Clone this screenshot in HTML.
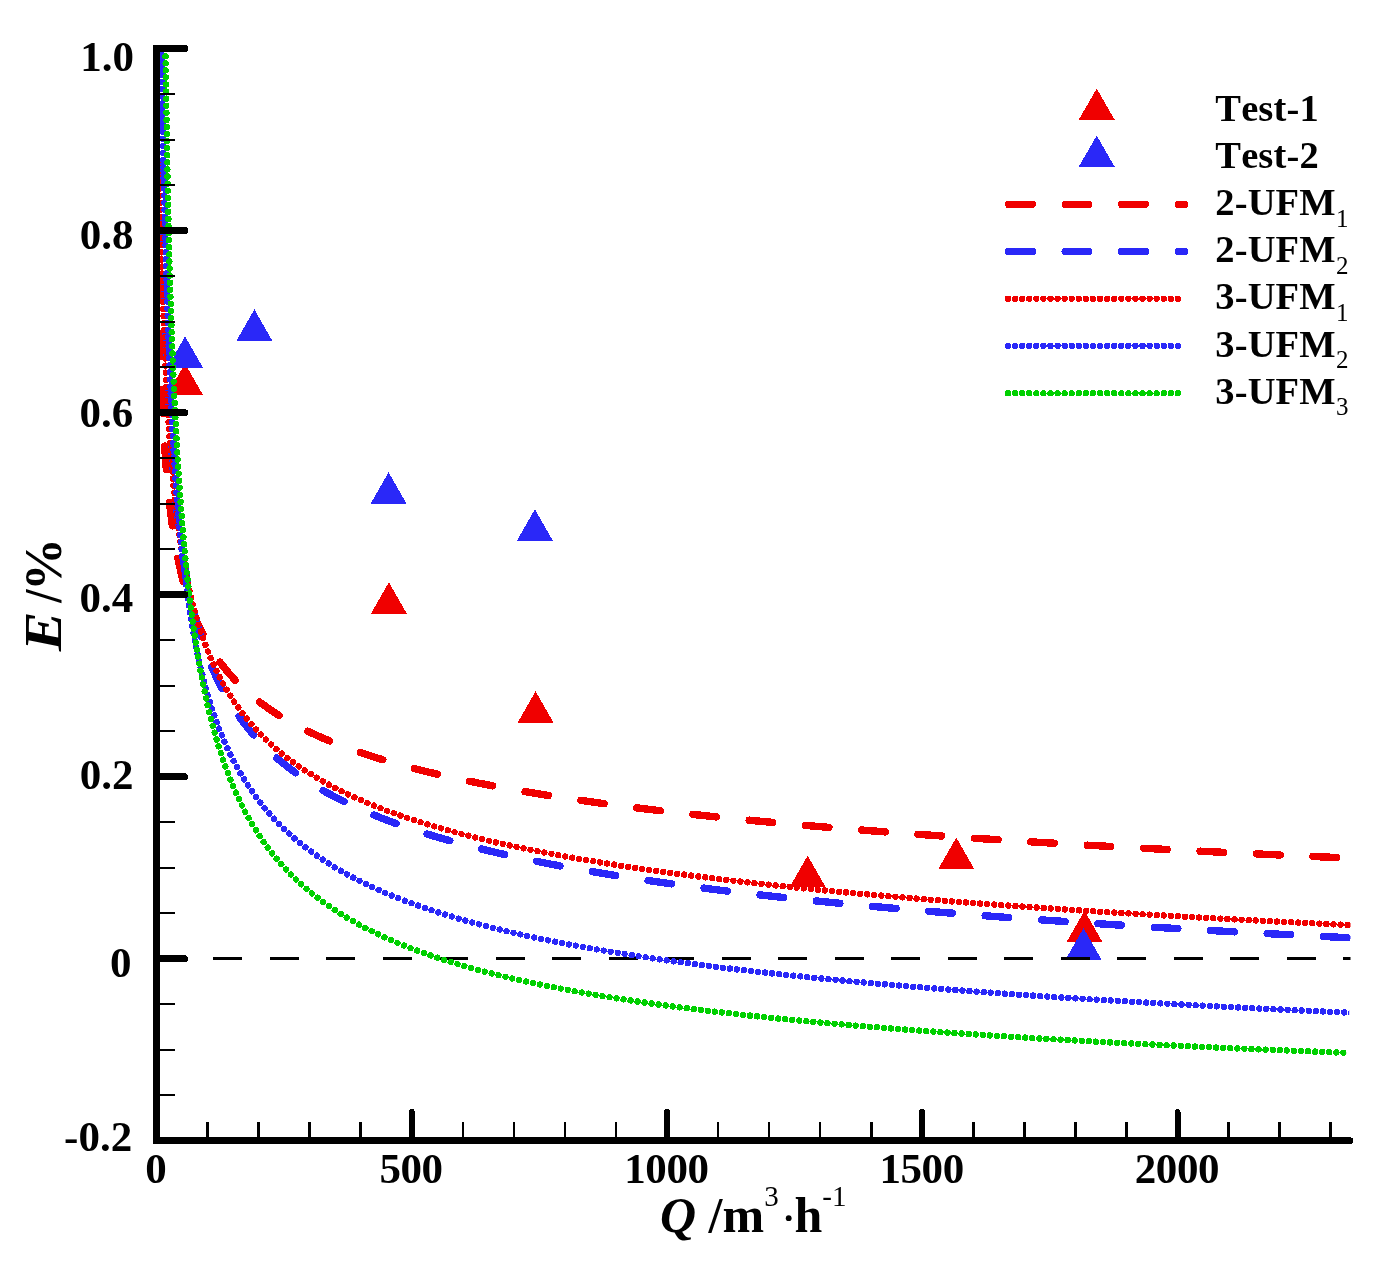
<!DOCTYPE html>
<html><head><meta charset="utf-8"><title>chart</title>
<style>html,body{margin:0;padding:0;background:#fff}body{width:1391px;height:1277px;overflow:hidden}</style></head>
<body>
<svg width="1391" height="1277" viewBox="0 0 1391 1277" style="display:block">
<rect width="1391" height="1277" fill="#fff"/>
<defs><clipPath id="vp"><rect x="156.5" y="48.5" width="1194.0" height="1092.2"/></clipPath>
<clipPath id="cb"><rect x="156.5" y="48.5" width="1192.7" height="1092.2"/></clipPath>
<clipPath id="cg"><rect x="156.5" y="48.5" width="1189.7" height="1092.2"/></clipPath>
</defs>
<g shape-rendering="crispEdges">
<polygon points="185.0,363.5 167.0,395.0 203.0,395.0" fill="#f00000"/>
<polygon points="388.9,582.2 370.9,613.7 406.9,613.7" fill="#f00000"/>
<polygon points="535.6,691.2 517.6,722.7 553.6,722.7" fill="#f00000"/>
<polygon points="807.7,855.6 789.7,887.1 825.7,887.1" fill="#f00000"/>
<polygon points="956.3,837.6 938.3,869.1 974.3,869.1" fill="#f00000"/>
<polygon points="1084.5,910.7 1066.5,942.2 1102.5,942.2" fill="#f00000"/>
<polygon points="185.1,336.3 167.1,367.8 203.1,367.8" fill="#2a28f8"/>
<polygon points="254.4,309.3 236.4,340.8 272.4,340.8" fill="#2a28f8"/>
<polygon points="388.6,472.3 370.6,503.8 406.6,503.8" fill="#2a28f8"/>
<polygon points="534.9,509.2 516.9,540.7 552.9,540.7" fill="#2a28f8"/>
<polygon points="1083.5,928.2 1065.5,959.7 1101.5,959.7" fill="#2a28f8"/>
</g>
<g clip-path="url(#vp)" fill="none" shape-rendering="crispEdges">
<path d="M156.5,958.4 H1352" stroke="#000" stroke-width="3" stroke-dasharray="29.3 27.2"/>
<path d="M155.07,-11.04 L155.08,-7.92 L155.09,-4.83 L155.09,-1.77 L155.10,1.27 L155.11,4.28 L155.12,7.26 L155.12,10.22 L155.13,13.16 L155.14,16.07 L155.15,18.96 L155.15,21.83 L155.16,24.68 L155.17,27.50 L155.18,30.30 L155.19,33.08 L155.19,35.84 L155.20,38.58 L155.21,41.30 L155.22,44.00 L155.23,46.68 L155.24,49.35 L155.24,51.99 L155.25,54.62 L155.26,57.22 L155.27,59.82 L155.28,62.39 L155.29,64.94 L155.30,67.48 L155.31,70.01 L155.31,72.51 L155.32,75.00 L155.33,77.48 L155.34,79.94 L155.35,82.38 L155.36,84.81 L155.37,87.23 L155.38,89.63 L155.39,92.02 L155.40,94.39 L155.41,96.75 L155.42,99.09 L155.43,101.42 L155.44,103.74 L155.45,106.04 L155.46,108.34 L155.47,110.62 L155.49,112.88 L155.54,115.14 L155.59,117.38 L155.63,119.61 L155.68,121.83 L155.72,124.04 L155.77,126.23 L155.81,128.42 L155.86,130.59 L155.90,132.75 L155.94,134.90 L155.99,137.04 L156.03,139.17 L156.08,141.29 L156.12,143.40 L156.16,145.50 L156.20,147.59 L156.25,149.67 L156.29,151.74 L156.33,153.80 L156.37,155.85 L156.41,157.89 L156.45,159.92 L156.50,161.94 L156.54,163.95 L156.58,165.95 L156.62,167.95 L156.66,169.93 L156.70,171.91 L156.74,173.88 L156.78,175.84 L156.82,177.79 L156.86,179.74 L156.90,181.67 L156.94,183.60 L156.98,185.52 L157.01,187.43 L157.05,189.33 L157.09,191.22 L157.13,193.11 L157.17,194.99 L157.21,196.86 L157.25,198.73 L157.28,200.59 L157.32,202.44 L157.36,204.28 L157.40,206.12 L157.44,207.94 L157.47,209.77 L157.51,211.58 L157.55,213.39 L157.59,215.19 L157.62,216.99 L157.66,218.77 L157.70,220.55 L157.74,222.33 L157.77,224.10 L157.81,225.86 L157.85,227.61 L157.88,229.36 L157.92,231.11 L157.96,232.84 L157.99,234.57 L158.03,236.30 L158.07,238.02 L158.10,239.73 L158.14,241.44 L158.17,243.14 L158.21,244.83 L158.25,246.52 L158.28,248.21 L158.32,249.88 L158.35,251.56 L158.39,253.22 L158.43,254.89 L158.46,256.54 L158.50,258.19 L158.53,259.84 L158.57,261.48 L158.60,263.11 L158.64,264.74 L158.68,266.37 L158.71,267.99 L158.75,269.60 L158.78,271.21 L158.82,272.81 L158.85,274.41 L158.89,276.01 L158.93,277.60 L158.96,279.18 L159.00,280.76 L159.03,282.34 L159.07,283.91 L159.10,285.47 L159.14,287.03 L159.17,288.59 L159.21,290.14 L159.24,291.69 L159.28,293.23 L159.31,294.77 L159.35,296.30 L159.38,297.83 L159.42,299.36 L159.45,300.88 L159.49,302.39 L159.52,303.91 L159.56,305.41 L159.59,306.92 L159.63,308.42 L159.66,309.91 L159.70,311.40 L159.73,312.89 L159.77,314.37 L159.80,315.85 L159.83,317.32 L159.87,318.79 L159.90,320.26 L159.93,321.72 L159.96,323.18 L160.00,324.64 L160.03,326.09 L160.06,327.54 L160.09,328.98 L160.12,330.42 L160.16,331.85 L160.19,333.29 L160.23,334.72 L160.26,336.14 L160.29,337.56 L160.33,338.98 L160.36,340.39 L160.40,341.80 L160.43,343.21 L160.47,344.61 L160.51,346.01 L160.54,347.41 L160.58,348.80 L160.62,350.19 L160.65,351.57 L160.69,352.95 L160.73,354.33 L160.77,355.71 L160.81,357.08 L160.85,358.45 L160.89,359.81 L160.93,361.18 L160.97,362.53 L161.01,363.89 L161.05,365.24 L161.09,366.59 L161.13,367.94 L161.18,369.28 L161.22,370.62 L161.26,371.95 L161.31,373.29 L161.35,374.61 L161.39,375.94 L161.44,377.26 L161.48,378.58 L161.53,379.90 L161.57,381.22 L161.62,382.53 L161.67,383.84 L161.72,385.14 L161.76,386.44 L161.81,387.74 L161.86,389.04 L161.91,390.33 L161.96,391.62 L162.01,392.91 L162.06,394.19 L162.11,395.47 L162.16,396.75 L162.21,398.03 L162.26,399.30 L162.32,400.57 L162.37,401.84 L162.42,403.10 L162.48,404.37 L162.53,405.62 L162.59,406.88 L162.64,408.13 L162.70,409.38 L162.76,410.63 L162.81,411.88 L162.87,413.12 L162.93,414.36 L162.99,415.60 L163.05,416.83 L163.11,418.06 L163.17,419.29 L163.23,420.52 L163.29,421.74 L163.35,422.97 L163.41,424.18 L163.48,425.40 L163.54,426.61 L163.60,427.82 L163.67,429.03 L163.74,430.24 L163.80,431.44 L163.87,432.64 L163.94,433.84 L164.00,435.04 L164.07,436.23 L164.14,437.42 L164.21,438.61 L164.28,439.80 L164.35,440.98 L164.42,442.16 L164.50,443.34 L164.57,444.52 L164.64,445.69 L164.72,446.86 L164.79,448.03 L164.87,449.20 L164.95,450.36 L165.02,451.53 L165.10,452.68 L165.18,453.84 L165.26,455.00 L165.34,456.15 L165.42,457.30 L165.50,458.45 L165.58,459.59 L165.67,460.74 L165.75,461.88 L165.83,463.02 L165.92,464.16 L166.00,465.29 L166.09,466.42 L166.18,467.55 L166.27,468.68 L166.36,469.81 L166.45,470.93 L166.54,472.05 L166.63,473.17 L166.72,474.29 L166.82,475.40 L166.91,476.51 L167.00,477.62 L167.10,478.73 L167.20,479.84 L167.30,480.94 L167.39,482.04 L167.49,483.14 L167.59,484.24 L167.70,485.34 L167.80,486.43 L167.90,487.52 L168.00,488.61 L168.11,489.70 L168.22,490.78 L168.32,491.86 L168.43,492.94 L168.54,494.02 L168.65,495.10 L168.76,496.17 L168.87,497.25 L168.99,498.32 L169.10,499.39 L169.22,500.45 L169.33,501.52 L169.45,502.58 L169.57,503.64 L169.69,504.70 L169.81,505.76 L169.93,506.81 L170.05,507.86 L170.17,508.91 L170.30,509.96 L170.43,511.01 L170.55,512.05 L170.68,513.10 L170.81,514.14 L170.94,515.18 L171.07,516.21 L171.21,517.25 L171.34,518.28 L171.48,519.31 L171.61,520.34 L171.75,521.37 L171.89,522.40 L172.03,523.42 L172.17,524.44 L172.32,525.46 L172.46,526.48 L172.61,527.50 L172.75,528.51 L172.90,529.53 L173.05,530.54 L173.20,531.55 L173.36,532.55 L173.51,533.56 L173.67,534.56 L173.82,535.56 L173.98,536.56 L174.14,537.56 L174.30,538.56 L174.46,539.55 L174.63,540.54 L174.79,541.53 L174.96,542.52 L175.13,543.51 L175.30,544.50 L175.47,545.48 L175.64,546.46 L175.82,547.44 L176.00,548.42 L176.17,549.40 L176.35,550.37 L176.54,551.35 L176.72,552.32 L176.90,553.29 L177.09,554.26 L177.28,555.22 L177.47,556.19 L177.66,557.15 L177.85,558.11 L178.05,559.07 L178.24,560.03 L178.44,560.98 L178.64,561.94 L178.85,562.89 L179.05,563.84 L179.26,564.79 L179.46,565.74 L179.67,566.69 L179.89,567.63 L180.10,568.57 L180.31,569.51 L180.53,570.45 L180.75,571.39 L180.97,572.33 L181.20,573.26 L181.42,574.20 L181.65,575.13 L181.88,576.06 L182.11,576.98 L182.35,577.91 L182.58,578.84 L182.82,579.76 L183.06,580.68 L183.30,581.60 L183.55,582.52 L183.79,583.44 L184.04,584.35 L184.30,585.26 L184.55,586.18 L184.81,587.09 L185.06,588.00 L185.33,588.90 L185.59,589.81 L185.85,590.71 L186.12,591.61 L186.39,592.52 L186.67,593.42 L186.94,594.31 L187.22,595.21 L187.50,596.10 L187.78,597.00 L188.07,597.89 L188.36,598.78 L188.65,599.67 L188.94,600.56 L189.24,601.44 L189.54,602.33 L189.84,603.21 L190.14,604.09 L190.45,604.97 L190.76,605.85 L191.08,606.72 L191.39,607.60 L191.71,608.47 L192.03,609.34 L192.36,610.21 L192.68,611.08 L193.01,611.95 L193.35,612.82 L193.68,613.68 L194.02,614.54 L194.37,615.41 L194.71,616.27 L195.06,617.13 L195.41,617.98 L195.77,618.84 L196.13,619.69 L196.49,620.55 L196.86,621.40 L197.22,622.25 L197.60,623.10 L197.97,623.94 L198.35,624.79 L198.73,625.63 L199.12,626.48 L199.51,627.32 L199.90,628.16 L200.30,629.00 L200.70,629.83 L201.10,630.67 L201.51,631.50 L201.92,632.34 L202.34,633.17 L202.75,634.00 L203.18,634.83 L203.60,635.65 L204.03,636.48 L204.47,637.31 L204.91,638.13 L205.35,638.95 L205.79,639.77 L206.24,640.59 L206.70,641.41 L207.16,642.22 L207.62,643.04 L208.09,643.85 L208.56,644.66 L209.03,645.48 L209.51,646.28 L210.00,647.09 L210.49,647.90 L210.98,648.70 L211.48,649.51 L211.98,650.31 L212.49,651.11 L213.00,651.91 L213.52,652.71 L214.04,653.51 L214.56,654.31 L215.09,655.10 L215.63,655.89 L216.17,656.69 L216.71,657.48 L217.26,658.27 L217.82,659.05 L218.38,659.84 L218.94,660.63 L219.51,661.41 L220.09,662.19 L220.67,662.97 L221.26,663.75 L221.85,664.53 L222.44,665.31 L223.05,666.09 L223.66,666.86 L224.27,667.64 L224.89,668.41 L225.51,669.18 L226.14,669.95 L226.78,670.72 L227.42,671.49 L228.07,672.25 L228.72,673.02 L229.38,673.78 L230.05,674.54 L230.72,675.30 L231.40,676.06 L232.08,676.82 L232.77,677.58 L233.47,678.34 L234.17,679.09 L234.88,679.84 L235.60,680.60 L236.32,681.35 L237.05,682.10 L237.79,682.84 L238.53,683.59 L239.28,684.34 L240.03,685.08 L240.80,685.83 L241.57,686.57 L242.35,687.31 L243.13,688.05 L243.92,688.79 L244.72,689.53 L245.53,690.26 L246.34,691.00 L247.16,691.73 L247.99,692.46 L248.82,693.20 L249.67,693.93 L250.52,694.65 L251.38,695.38 L252.24,696.11 L253.12,696.83 L254.00,697.56 L254.89,698.28 L255.79,699.00 L256.70,699.72 L257.61,700.44 L258.54,701.16 L259.47,701.88 L260.41,702.59 L261.36,703.31 L262.32,704.02 L263.28,704.73 L264.26,705.45 L265.24,706.16 L266.24,706.86 L267.24,707.57 L268.25,708.28 L269.27,708.98 L270.30,709.69 L271.34,710.39 L272.39,711.09 L273.45,711.79 L274.52,712.49 L275.60,713.19 L276.68,713.89 L277.78,714.59 L278.89,715.28 L280.01,715.97 L281.14,716.67 L282.27,717.36 L283.42,718.05 L284.58,718.74 L285.75,719.43 L286.93,720.11 L288.13,720.80 L289.33,721.48 L290.54,722.17 L291.77,722.85 L293.00,723.53 L294.25,724.21 L295.51,724.89 L296.78,725.57 L298.06,726.25 L299.35,726.92 L300.66,727.60 L301.97,728.27 L303.30,728.94 L304.64,729.62 L306.00,730.29 L307.36,730.96 L308.74,731.62 L310.13,732.29 L311.54,732.96 L312.95,733.62 L314.38,734.29 L315.82,734.95 L317.28,735.61 L318.75,736.27 L320.23,736.93 L321.73,737.59 L323.24,738.25 L324.76,738.90 L326.30,739.56 L327.85,740.21 L329.41,740.86 L330.99,741.52 L332.59,742.17 L334.19,742.82 L335.82,743.47 L337.46,744.11 L339.11,744.76 L340.78,745.41 L342.46,746.05 L344.16,746.69 L345.87,747.34 L347.60,747.98 L349.35,748.62 L351.11,749.26 L352.89,749.90 L354.68,750.53 L356.49,751.17 L358.32,751.81 L360.16,752.44 L362.03,753.07 L363.90,753.70 L365.80,754.34 L367.71,754.97 L369.64,755.60 L371.59,756.22 L373.55,756.85 L375.53,757.48 L377.54,758.10 L379.55,758.72 L381.59,759.35 L383.65,759.97 L385.72,760.59 L387.82,761.21 L389.93,761.83 L392.06,762.45 L394.22,763.06 L396.39,763.68 L398.58,764.29 L400.79,764.91 L403.02,765.52 L405.27,766.13 L407.55,766.74 L409.84,767.35 L412.15,767.96 L414.49,768.57 L416.85,769.18 L419.22,769.78 L421.63,770.39 L424.05,770.99 L426.49,771.60 L428.96,772.20 L431.45,772.80 L433.96,773.40 L436.49,774.00 L439.05,774.60 L441.63,775.19 L444.24,775.79 L446.87,776.38 L449.52,776.98 L452.20,777.57 L454.90,778.16 L457.62,778.75 L460.37,779.35 L463.15,779.93 L465.95,780.52 L468.78,781.11 L471.63,781.70 L474.51,782.28 L477.41,782.87 L480.35,783.45 L483.31,784.03 L486.29,784.62 L489.30,785.20 L492.34,785.78 L495.41,786.36 L498.51,786.93 L501.63,787.51 L504.79,788.09 L507.97,788.66 L511.18,789.24 L514.42,789.81 L517.69,790.38 L520.99,790.95 L524.32,791.52 L527.68,792.09 L531.07,792.66 L534.49,793.23 L537.94,793.80 L541.43,794.36 L544.94,794.93 L548.49,795.49 L552.07,796.05 L555.69,796.62 L559.33,797.18 L563.01,797.74 L566.73,798.30 L570.48,798.86 L574.26,799.41 L578.07,799.97 L581.93,800.53 L585.81,801.08 L589.73,801.64 L593.69,802.19 L597.69,802.74 L601.72,803.29 L605.78,803.84 L609.89,804.39 L614.03,804.94 L618.21,805.49 L622.43,806.04 L626.68,806.58 L630.98,807.13 L635.31,807.67 L639.69,808.22 L644.10,808.76 L648.56,809.30 L653.05,809.84 L657.59,810.38 L662.17,810.92 L666.79,811.46 L671.45,812.00 L676.15,812.53 L680.90,813.07 L685.69,813.60 L690.52,814.14 L695.40,814.67 L700.33,815.20 L705.29,815.73 L710.31,816.26 L715.37,816.79 L720.47,817.32 L725.62,817.85 L730.82,818.38 L736.07,818.90 L741.36,819.43 L746.71,819.95 L752.10,820.48 L757.54,821.00 L763.03,821.52 L768.57,822.04 L774.16,822.56 L779.81,823.08 L785.50,823.60 L791.25,824.12 L797.05,824.63 L802.90,825.15 L808.80,825.67 L814.76,826.18 L820.77,826.69 L826.84,827.21 L832.97,827.72 L839.15,828.23 L845.38,828.74 L851.68,829.25 L858.03,829.76 L864.44,830.26 L870.90,830.77 L877.43,831.28 L884.02,831.78 L890.66,832.29 L897.37,832.79 L904.14,833.29 L910.97,833.80 L917.86,834.30 L924.82,834.80 L931.83,835.30 L938.92,835.80 L946.06,836.29 L953.28,836.79 L960.56,837.29 L967.90,837.78 L975.31,838.28 L982.80,838.77 L990.34,839.26 L997.96,839.76 L1005.65,840.25 L1013.41,840.74 L1021.23,841.23 L1029.13,841.72 L1037.11,842.21 L1045.15,842.69 L1053.27,843.18 L1061.46,843.67 L1069.73,844.15 L1078.07,844.64 L1086.49,845.12 L1094.99,845.60 L1103.56,846.08 L1112.21,846.57 L1120.94,847.05 L1129.75,847.53 L1138.64,848.01 L1147.62,848.48 L1156.67,848.96 L1165.81,849.44 L1175.03,849.91 L1184.33,850.39 L1193.72,850.86 L1203.20,851.34 L1212.76,851.81 L1222.41,852.28 L1232.15,852.75 L1241.97,853.22 L1251.89,853.69 L1261.90,854.16 L1272.00,854.63 L1282.19,855.10 L1292.47,855.56 L1302.85,856.03 L1313.32,856.50 L1323.89,856.96 L1334.55,857.42 L1345.31,857.89 L1356.18,858.35" stroke="#f00000" stroke-width="7.4" stroke-linecap="round" stroke-dasharray="23.6 32.9" stroke-dashoffset="-5.29"/>
<path d="M159.49,-9.79 L159.52,-4.60 L159.55,0.50 L159.58,5.53 L159.61,10.49 L159.64,15.37 L159.67,20.19 L159.70,24.94 L159.73,29.62 L159.77,34.23 L159.80,38.79 L159.83,43.28 L159.86,47.72 L159.90,52.10 L159.93,56.42 L159.96,60.68 L160.00,64.90 L160.03,69.06 L160.06,73.18 L160.10,77.24 L160.13,81.25 L160.17,85.22 L160.20,89.15 L160.24,93.02 L160.27,96.86 L160.31,100.65 L160.34,104.40 L160.38,108.11 L160.42,111.79 L160.49,115.42 L160.56,119.01 L160.64,122.57 L160.71,126.09 L160.78,129.57 L160.86,133.03 L160.93,136.44 L161.00,139.82 L161.08,143.17 L161.15,146.49 L161.22,149.78 L161.29,153.04 L161.36,156.26 L161.43,159.46 L161.50,162.63 L161.57,165.77 L161.64,168.88 L161.71,171.96 L161.78,175.02 L161.85,178.05 L161.91,181.05 L161.98,184.03 L162.05,186.99 L162.12,189.92 L162.19,192.82 L162.25,195.71 L162.32,198.56 L162.39,201.40 L162.46,204.21 L162.52,207.01 L162.59,209.78 L162.66,212.53 L162.72,215.25 L162.79,217.96 L162.85,220.65 L162.92,223.31 L162.99,225.96 L163.05,228.59 L163.12,231.20 L163.18,233.79 L163.25,236.36 L163.31,238.91 L163.38,241.45 L163.45,243.97 L163.51,246.47 L163.58,248.95 L163.64,251.42 L163.71,253.87 L163.77,256.31 L163.84,258.72 L163.90,261.13 L163.97,263.51 L164.03,265.89 L164.10,268.24 L164.16,270.58 L164.23,272.91 L164.29,275.22 L164.36,277.52 L164.42,279.80 L164.49,282.07 L164.56,284.33 L164.62,286.57 L164.69,288.80 L164.75,291.01 L164.82,293.22 L164.88,295.41 L164.95,297.58 L165.01,299.75 L165.08,301.90 L165.14,304.04 L165.21,306.17 L165.27,308.28 L165.34,310.39 L165.40,312.48 L165.47,314.56 L165.53,316.63 L165.59,318.69 L165.66,320.73 L165.72,322.77 L165.78,324.79 L165.85,326.81 L165.91,328.81 L165.97,330.81 L166.04,332.79 L166.10,334.76 L166.17,336.73 L166.23,338.68 L166.30,340.62 L166.36,342.56 L166.43,344.48 L166.50,346.39 L166.56,348.30 L166.63,350.20 L166.70,352.08 L166.77,353.96 L166.84,355.83 L166.91,357.69 L166.98,359.54 L167.05,361.38 L167.12,363.21 L167.19,365.04 L167.26,366.85 L167.34,368.66 L167.41,370.46 L167.48,372.25 L167.56,374.03 L167.63,375.81 L167.71,377.58 L167.78,379.34 L167.86,381.09 L167.94,382.83 L168.01,384.57 L168.09,386.30 L168.17,388.02 L168.25,389.73 L168.33,391.44 L168.41,393.14 L168.49,394.83 L168.57,396.51 L168.65,398.19 L168.73,399.86 L168.82,401.53 L168.90,403.18 L168.98,404.83 L169.07,406.48 L169.15,408.11 L169.24,409.74 L169.32,411.37 L169.41,412.98 L169.50,414.59 L169.59,416.20 L169.67,417.80 L169.76,419.39 L169.85,420.97 L169.94,422.55 L170.03,424.13 L170.13,425.69 L170.22,427.25 L170.31,428.81 L170.40,430.36 L170.50,431.90 L170.59,433.44 L170.69,434.97 L170.78,436.50 L170.88,438.02 L170.98,439.53 L171.07,441.04 L171.17,442.54 L171.27,444.04 L171.37,445.54 L171.47,447.02 L171.57,448.50 L171.68,449.98 L171.78,451.45 L171.88,452.92 L171.99,454.38 L172.09,455.84 L172.20,457.29 L172.30,458.73 L172.41,460.17 L172.52,461.61 L172.62,463.04 L172.73,464.47 L172.84,465.89 L172.95,467.30 L173.06,468.71 L173.18,470.12 L173.29,471.52 L173.40,472.92 L173.52,474.31 L173.63,475.70 L173.75,477.08 L173.86,478.46 L173.98,479.84 L174.10,481.21 L174.22,482.57 L174.34,483.93 L174.46,485.29 L174.58,486.64 L174.70,487.99 L174.82,489.33 L174.95,490.67 L175.07,492.01 L175.20,493.34 L175.32,494.67 L175.45,495.99 L175.58,497.31 L175.71,498.62 L175.84,499.93 L175.97,501.24 L176.10,502.54 L176.23,503.84 L176.37,505.13 L176.50,506.42 L176.64,507.71 L176.77,508.99 L176.91,510.27 L177.05,511.54 L177.19,512.82 L177.33,514.08 L177.47,515.35 L177.61,516.61 L177.75,517.86 L177.89,519.11 L178.04,520.36 L178.18,521.61 L178.33,522.85 L178.48,524.09 L178.63,525.32 L178.78,526.55 L178.93,527.78 L179.08,529.00 L179.23,530.22 L179.38,531.44 L179.54,532.65 L179.69,533.86 L179.85,535.07 L180.01,536.27 L180.17,537.47 L180.33,538.67 L180.49,539.86 L180.65,541.05 L180.81,542.23 L180.98,543.42 L181.14,544.60 L181.31,545.77 L181.48,546.95 L181.65,548.12 L181.82,549.28 L181.99,550.45 L182.16,551.61 L182.33,552.76 L182.51,553.92 L182.68,555.07 L182.86,556.22 L183.04,557.36 L183.22,558.51 L183.40,559.64 L183.58,560.78 L183.76,561.91 L183.95,563.04 L184.13,564.17 L184.32,565.29 L184.51,566.42 L184.70,567.53 L184.89,568.65 L185.08,569.76 L185.27,570.87 L185.47,571.98 L185.66,573.08 L185.86,574.18 L186.06,575.28 L186.26,576.38 L186.46,577.47 L186.66,578.56 L186.86,579.65 L187.07,580.73 L187.28,581.81 L187.48,582.89 L187.69,583.97 L187.90,585.04 L188.12,586.11 L188.33,587.18 L188.54,588.25 L188.76,589.31 L188.98,590.37 L189.20,591.43 L189.42,592.48 L189.64,593.54 L189.87,594.59 L190.09,595.63 L190.32,596.68 L190.55,597.72 L190.78,598.76 L191.01,599.80 L191.24,600.83 L191.48,601.86 L191.71,602.89 L191.95,603.92 L192.19,604.95 L192.43,605.97 L192.67,606.99 L192.92,608.01 L193.16,609.02 L193.41,610.03 L193.66,611.04 L193.91,612.05 L194.17,613.06 L194.42,614.06 L194.68,615.06 L194.93,616.06 L195.19,617.06 L195.45,618.05 L195.72,619.04 L195.98,620.03 L196.25,621.02 L196.52,622.01 L196.79,622.99 L197.06,623.97 L197.33,624.95 L197.61,625.92 L197.89,626.90 L198.17,627.87 L198.45,628.84 L198.73,629.80 L199.02,630.77 L199.31,631.73 L199.60,632.69 L199.89,633.65 L200.18,634.61 L200.47,635.56 L200.77,636.51 L201.07,637.46 L201.37,638.41 L201.67,639.35 L201.98,640.30 L202.29,641.24 L202.60,642.18 L202.91,643.12 L203.22,644.05 L203.54,644.98 L203.86,645.91 L204.18,646.84 L204.50,647.77 L204.82,648.69 L205.15,649.62 L205.48,650.54 L205.81,651.46 L206.14,652.37 L206.48,653.29 L206.81,654.20 L207.15,655.11 L207.50,656.02 L207.84,656.93 L208.19,657.83 L208.54,658.74 L208.89,659.64 L209.24,660.54 L209.60,661.43 L209.96,662.33 L210.32,663.22 L210.68,664.11 L211.05,665.00 L211.42,665.89 L211.79,666.78 L212.16,667.66 L212.54,668.54 L212.92,669.42 L213.30,670.30 L213.68,671.18 L214.07,672.05 L214.46,672.93 L214.85,673.80 L215.24,674.67 L215.64,675.53 L216.04,676.40 L216.44,677.26 L216.85,678.12 L217.25,678.98 L217.66,679.84 L218.08,680.70 L218.49,681.55 L218.91,682.41 L219.33,683.26 L219.76,684.11 L220.19,684.96 L220.62,685.80 L221.05,686.65 L221.49,687.49 L221.92,688.33 L222.37,689.17 L222.81,690.01 L223.26,690.84 L223.71,691.68 L224.16,692.51 L224.62,693.34 L225.08,694.17 L225.55,695.00 L226.01,695.82 L226.48,696.64 L226.95,697.47 L227.43,698.29 L227.91,699.11 L228.39,699.92 L228.88,700.74 L229.37,701.55 L229.86,702.37 L230.35,703.18 L230.85,703.99 L231.36,704.79 L231.86,705.60 L232.37,706.40 L232.88,707.21 L233.40,708.01 L233.92,708.81 L234.44,709.60 L234.97,710.40 L235.50,711.20 L236.03,711.99 L236.57,712.78 L237.11,713.57 L237.66,714.36 L238.20,715.15 L238.76,715.93 L239.31,716.72 L239.87,717.50 L240.43,718.28 L241.00,719.06 L241.57,719.84 L242.15,720.61 L242.73,721.39 L243.31,722.16 L243.89,722.93 L244.49,723.70 L245.08,724.47 L245.68,725.24 L246.28,726.00 L246.89,726.77 L247.50,727.53 L248.11,728.29 L248.73,729.05 L249.35,729.81 L249.98,730.57 L250.61,731.32 L251.25,732.07 L251.89,732.83 L252.53,733.58 L253.18,734.33 L253.84,735.08 L254.49,735.82 L255.16,736.57 L255.82,737.31 L256.49,738.05 L257.17,738.80 L257.85,739.53 L258.53,740.27 L259.22,741.01 L259.92,741.74 L260.62,742.48 L261.32,743.21 L262.03,743.94 L262.74,744.67 L263.46,745.40 L264.18,746.13 L264.91,746.85 L265.64,747.58 L266.38,748.30 L267.12,749.02 L267.87,749.74 L268.62,750.46 L269.38,751.18 L270.14,751.89 L270.91,752.61 L271.68,753.32 L272.46,754.03 L273.24,754.75 L274.03,755.45 L274.83,756.16 L275.63,756.87 L276.43,757.57 L277.24,758.28 L278.06,758.98 L278.88,759.68 L279.70,760.38 L280.54,761.08 L281.38,761.78 L282.22,762.48 L283.07,763.17 L283.92,763.86 L284.78,764.56 L285.65,765.25 L286.52,765.94 L287.40,766.63 L288.29,767.31 L289.18,768.00 L290.07,768.68 L290.98,769.37 L291.88,770.05 L292.80,770.73 L293.72,771.41 L294.65,772.09 L295.58,772.77 L296.52,773.44 L297.47,774.12 L298.42,774.79 L299.38,775.46 L300.34,776.13 L301.31,776.80 L302.29,777.47 L303.28,778.14 L304.27,778.80 L305.27,779.47 L306.27,780.13 L307.29,780.79 L308.30,781.46 L309.33,782.12 L310.36,782.77 L311.40,783.43 L312.45,784.09 L313.50,784.74 L314.56,785.40 L315.63,786.05 L316.71,786.70 L317.79,787.35 L318.88,788.00 L319.98,788.65 L321.08,789.30 L322.19,789.94 L323.31,790.59 L324.44,791.23 L325.57,791.87 L326.71,792.51 L327.86,793.15 L329.02,793.79 L330.19,794.43 L331.36,795.06 L332.54,795.70 L333.73,796.33 L334.93,796.97 L336.14,797.60 L337.35,798.23 L338.57,798.86 L339.80,799.49 L341.04,800.11 L342.29,800.74 L343.54,801.37 L344.81,801.99 L346.08,802.61 L347.36,803.23 L348.65,803.85 L349.95,804.47 L351.25,805.09 L352.57,805.71 L353.89,806.32 L355.23,806.94 L356.57,807.55 L357.92,808.17 L359.28,808.78 L360.65,809.39 L362.03,810.00 L363.42,810.61 L364.82,811.21 L366.23,811.82 L367.64,812.43 L369.07,813.03 L370.51,813.63 L371.95,814.23 L373.41,814.83 L374.87,815.43 L376.35,816.03 L377.83,816.63 L379.33,817.23 L380.83,817.82 L382.35,818.42 L383.88,819.01 L385.41,819.60 L386.96,820.19 L388.52,820.78 L390.08,821.37 L391.66,821.96 L393.25,822.55 L394.85,823.14 L396.46,823.72 L398.08,824.30 L399.71,824.89 L401.36,825.47 L403.01,826.05 L404.68,826.63 L406.35,827.21 L408.04,827.79 L409.74,828.36 L411.45,828.94 L413.18,829.51 L414.91,830.09 L416.66,830.66 L418.41,831.23 L420.18,831.80 L421.96,832.37 L423.76,832.94 L425.56,833.51 L427.38,834.08 L429.21,834.64 L431.05,835.21 L432.91,835.77 L434.78,836.33 L436.66,836.89 L438.55,837.45 L440.45,838.01 L442.37,838.57 L444.30,839.13 L446.25,839.69 L448.21,840.24 L450.18,840.80 L452.16,841.35 L454.16,841.91 L456.17,842.46 L458.20,843.01 L460.23,843.56 L462.29,844.11 L464.35,844.66 L466.43,845.20 L468.53,845.75 L470.63,846.29 L472.76,846.84 L474.89,847.38 L477.04,847.92 L479.21,848.47 L481.39,849.01 L483.59,849.55 L485.80,850.08 L488.02,850.62 L490.26,851.16 L492.51,851.70 L494.79,852.23 L497.07,852.76 L499.37,853.30 L501.69,853.83 L504.02,854.36 L506.37,854.89 L508.73,855.42 L511.11,855.95 L513.51,856.48 L515.92,857.00 L518.35,857.53 L520.79,858.05 L523.25,858.58 L525.73,859.10 L528.23,859.62 L530.74,860.14 L533.27,860.66 L535.81,861.18 L538.38,861.70 L540.96,862.22 L543.55,862.73 L546.17,863.25 L548.80,863.77 L551.45,864.28 L554.12,864.79 L556.81,865.30 L559.51,865.82 L562.23,866.33 L564.97,866.84 L567.73,867.34 L570.51,867.85 L573.31,868.36 L576.13,868.86 L578.96,869.37 L581.82,869.87 L584.69,870.38 L587.58,870.88 L590.49,871.38 L593.43,871.88 L596.38,872.38 L599.35,872.88 L602.34,873.38 L605.36,873.88 L608.39,874.37 L611.44,874.87 L614.51,875.36 L617.61,875.86 L620.72,876.35 L623.86,876.84 L627.02,877.33 L630.20,877.82 L633.40,878.31 L636.62,878.80 L639.86,879.29 L643.13,879.78 L646.42,880.26 L649.73,880.75 L653.06,881.23 L656.41,881.72 L659.79,882.20 L663.19,882.68 L666.62,883.17 L670.06,883.65 L673.53,884.13 L677.03,884.60 L680.54,885.08 L684.08,885.56 L687.65,886.04 L691.24,886.51 L694.85,886.99 L698.49,887.46 L702.15,887.93 L705.83,888.41 L709.55,888.88 L713.28,889.35 L717.04,889.82 L720.83,890.29 L724.64,890.75 L728.48,891.22 L732.35,891.69 L736.24,892.15 L740.16,892.62 L744.10,893.08 L748.07,893.55 L752.07,894.01 L756.09,894.47 L760.14,894.93 L764.22,895.39 L768.32,895.85 L772.46,896.31 L776.62,896.77 L780.81,897.23 L785.03,897.68 L789.27,898.14 L793.55,898.59 L797.85,899.05 L802.19,899.50 L806.55,899.95 L810.94,900.41 L815.36,900.86 L819.81,901.31 L824.30,901.76 L828.81,902.21 L833.35,902.65 L837.92,903.10 L842.53,903.55 L847.16,903.99 L851.83,904.44 L856.53,904.88 L861.26,905.32 L866.02,905.77 L870.81,906.21 L875.64,906.65 L880.50,907.09 L885.39,907.53 L890.31,907.97 L895.27,908.41 L900.26,908.84 L905.29,909.28 L910.35,909.72 L915.44,910.15 L920.57,910.59 L925.73,911.02 L930.93,911.45 L936.16,911.88 L941.43,912.32 L946.73,912.75 L952.07,913.18 L957.44,913.61 L962.85,914.03 L968.30,914.46 L973.79,914.89 L979.31,915.32 L984.87,915.74 L990.47,916.17 L996.10,916.59 L1001.77,917.01 L1007.48,917.44 L1013.23,917.86 L1019.02,918.28 L1024.85,918.70 L1030.72,919.12 L1036.62,919.54 L1042.57,919.96 L1048.55,920.38 L1054.58,920.79 L1060.65,921.21 L1066.76,921.62 L1072.91,922.04 L1079.10,922.45 L1085.33,922.87 L1091.61,923.28 L1097.93,923.69 L1104.29,924.10 L1110.69,924.51 L1117.14,924.92 L1123.63,925.33 L1130.16,925.74 L1136.74,926.15 L1143.36,926.56 L1150.03,926.96 L1156.74,927.37 L1163.50,927.77 L1170.31,928.18 L1177.15,928.58 L1184.05,928.99 L1190.99,929.39 L1197.98,929.79 L1205.02,930.19 L1212.10,930.59 L1219.24,930.99 L1226.42,931.39 L1233.64,931.79 L1240.92,932.19 L1248.25,932.58 L1255.62,932.98 L1263.05,933.37 L1270.53,933.77 L1278.05,934.16 L1285.63,934.56 L1293.26,934.95 L1300.94,935.34 L1308.67,935.73 L1316.46,936.12 L1324.29,936.52 L1332.18,936.90 L1340.13,937.29 L1348.12,937.68 L1356.18,938.07" stroke="#2a28f8" stroke-width="7.4" stroke-linecap="round" stroke-dasharray="23.6 32.9" stroke-dashoffset="-60.10"/>
<path d="M155.45,-9.48 L155.46,-6.78 L155.48,-4.09 L155.50,-1.41 L155.52,1.27 L155.54,3.94 L155.56,6.61 L155.58,9.28 L155.60,11.94 L155.62,14.60 L155.64,17.25 L155.66,19.89 L155.68,22.54 L155.70,25.17 L155.72,27.81 L155.74,30.43 L155.76,33.06 L155.78,35.67 L155.81,38.29 L155.83,40.90 L155.85,43.50 L155.87,46.10 L155.89,48.70 L155.92,51.29 L155.94,53.87 L155.96,56.45 L155.99,59.03 L156.01,61.60 L156.03,64.16 L156.06,66.73 L156.08,69.28 L156.11,71.83 L156.13,74.38 L156.15,76.92 L156.18,79.46 L156.21,81.99 L156.23,84.52 L156.26,87.04 L156.28,89.56 L156.31,92.07 L156.34,94.58 L156.36,97.08 L156.39,99.58 L156.42,102.07 L156.44,104.56 L156.47,107.05 L156.50,109.52 L156.53,112.00 L156.61,114.47 L156.69,116.93 L156.77,119.39 L156.85,121.84 L156.93,124.29 L157.01,126.74 L157.09,129.18 L157.17,131.61 L157.25,134.04 L157.33,136.46 L157.41,138.88 L157.49,141.30 L157.57,143.71 L157.65,146.11 L157.73,148.51 L157.81,150.91 L157.89,153.30 L157.97,155.68 L158.05,158.06 L158.13,160.44 L158.21,162.81 L158.29,165.17 L158.37,167.53 L158.45,169.89 L158.52,172.24 L158.60,174.59 L158.68,176.93 L158.76,179.26 L158.84,181.59 L158.92,183.92 L158.99,186.24 L159.07,188.56 L159.15,190.87 L159.23,193.17 L159.31,195.48 L159.38,197.77 L159.46,200.06 L159.54,202.35 L159.62,204.63 L159.70,206.91 L159.77,209.18 L159.85,211.45 L159.93,213.71 L160.01,215.97 L160.08,218.22 L160.16,220.47 L160.24,222.71 L160.32,224.95 L160.39,227.18 L160.47,229.41 L160.55,231.63 L160.63,233.85 L160.70,236.06 L160.78,238.27 L160.86,240.48 L160.93,242.67 L161.01,244.87 L161.09,247.06 L161.17,249.24 L161.24,251.42 L161.32,253.60 L161.40,255.77 L161.47,257.93 L161.55,260.09 L161.63,262.25 L161.71,264.40 L161.78,266.54 L161.86,268.68 L161.94,270.82 L162.01,272.95 L162.09,275.08 L162.17,277.20 L162.25,279.31 L162.32,281.43 L162.40,283.53 L162.48,285.64 L162.55,287.73 L162.63,289.83 L162.71,291.91 L162.78,294.00 L162.86,296.08 L162.94,298.15 L163.01,300.22 L163.09,302.29 L163.17,304.34 L163.24,306.40 L163.32,308.45 L163.39,310.50 L163.47,312.54 L163.54,314.57 L163.62,316.61 L163.69,318.63 L163.76,320.65 L163.83,322.67 L163.90,324.69 L163.97,326.69 L164.04,328.70 L164.11,330.70 L164.18,332.69 L164.26,334.68 L164.33,336.67 L164.40,338.65 L164.48,340.62 L164.55,342.59 L164.63,344.56 L164.71,346.52 L164.78,348.48 L164.86,350.43 L164.94,352.38 L165.02,354.33 L165.10,356.27 L165.18,358.20 L165.27,360.13 L165.35,362.06 L165.43,363.98 L165.52,365.89 L165.60,367.81 L165.69,369.71 L165.77,371.62 L165.86,373.52 L165.95,375.41 L166.04,377.30 L166.13,379.19 L166.22,381.07 L166.31,382.94 L166.41,384.82 L166.50,386.68 L166.59,388.55 L166.69,390.40 L166.79,392.26 L166.88,394.11 L166.98,395.95 L167.08,397.80 L167.18,399.63 L167.28,401.46 L167.38,403.29 L167.49,405.12 L167.59,406.94 L167.69,408.75 L167.80,410.56 L167.91,412.37 L168.01,414.17 L168.12,415.97 L168.23,417.76 L168.34,419.55 L168.46,421.33 L168.57,423.11 L168.68,424.89 L168.80,426.66 L168.91,428.43 L169.03,430.19 L169.15,431.95 L169.27,433.71 L169.39,435.46 L169.51,437.20 L169.64,438.95 L169.76,440.68 L169.88,442.42 L170.01,444.15 L170.14,445.87 L170.27,447.59 L170.40,449.31 L170.53,451.02 L170.66,452.73 L170.80,454.44 L170.93,456.14 L171.07,457.83 L171.20,459.53 L171.34,461.21 L171.48,462.90 L171.63,464.58 L171.77,466.25 L171.91,467.93 L172.06,469.59 L172.21,471.26 L172.35,472.92 L172.50,474.57 L172.65,476.22 L172.81,477.87 L172.96,479.52 L173.12,481.16 L173.27,482.79 L173.43,484.42 L173.59,486.05 L173.75,487.67 L173.92,489.29 L174.08,490.91 L174.25,492.52 L174.42,494.13 L174.58,495.73 L174.76,497.33 L174.93,498.93 L175.10,500.52 L175.28,502.11 L175.46,503.69 L175.63,505.27 L175.82,506.85 L176.00,508.42 L176.18,509.99 L176.37,511.55 L176.56,513.12 L176.75,514.67 L176.94,516.23 L177.13,517.78 L177.32,519.32 L177.52,520.86 L177.72,522.40 L177.92,523.94 L178.12,525.47 L178.33,526.99 L178.53,528.52 L178.74,530.03 L178.95,531.55 L179.16,533.06 L179.38,534.57 L179.59,536.07 L179.81,537.57 L180.03,539.07 L180.26,540.56 L180.48,542.05 L180.71,543.54 L180.94,545.02 L181.17,546.50 L181.40,547.98 L181.63,549.45 L181.87,550.91 L182.11,552.38 L182.35,553.84 L182.60,555.29 L182.84,556.75 L183.09,558.20 L183.35,559.64 L183.60,561.08 L183.85,562.52 L184.11,563.96 L184.37,565.39 L184.64,566.82 L184.90,568.24 L185.17,569.66 L185.44,571.08 L185.72,572.49 L185.99,573.90 L186.27,575.31 L186.55,576.71 L186.84,578.11 L187.12,579.51 L187.41,580.90 L187.70,582.29 L188.00,583.68 L188.30,585.06 L188.60,586.44 L188.90,587.81 L189.21,589.19 L189.52,590.55 L189.83,591.92 L190.14,593.28 L190.46,594.64 L190.78,595.99 L191.11,597.35 L191.43,598.69 L191.76,600.04 L192.10,601.38 L192.43,602.72 L192.77,604.05 L193.12,605.39 L193.46,606.71 L193.81,608.04 L194.16,609.36 L194.52,610.68 L194.88,611.99 L195.24,613.30 L195.61,614.61 L195.98,615.92 L196.35,617.22 L196.73,618.52 L197.11,619.81 L197.49,621.11 L197.88,622.39 L198.27,623.68 L198.66,624.96 L199.06,626.24 L199.46,627.52 L199.87,628.79 L200.28,630.06 L200.69,631.33 L201.11,632.59 L201.53,633.85 L201.96,635.11 L202.39,636.36 L202.82,637.61 L203.26,638.86 L203.70,640.10 L204.15,641.34 L204.60,642.58 L205.05,643.82 L205.51,645.05 L205.97,646.28 L206.44,647.50 L206.91,648.72 L207.39,649.94 L207.87,651.16 L208.36,652.37 L208.85,653.58 L209.34,654.79 L209.84,656.00 L210.34,657.20 L210.85,658.40 L211.37,659.59 L211.88,660.78 L212.41,661.97 L212.94,663.16 L213.47,664.34 L214.01,665.52 L214.55,666.70 L215.10,667.87 L215.65,669.04 L216.21,670.21 L216.78,671.38 L217.35,672.54 L217.92,673.70 L218.50,674.86 L219.09,676.01 L219.68,677.16 L220.28,678.31 L220.88,679.45 L221.49,680.60 L222.10,681.74 L222.72,682.87 L223.35,684.01 L223.98,685.14 L224.62,686.26 L225.26,687.39 L225.91,688.51 L226.56,689.63 L227.23,690.75 L227.90,691.86 L228.57,692.97 L229.25,694.08 L229.94,695.18 L230.63,696.29 L231.33,697.39 L232.04,698.48 L232.75,699.58 L233.47,700.67 L234.20,701.76 L234.94,702.84 L235.68,703.93 L236.43,705.01 L237.18,706.08 L237.94,707.16 L238.71,708.23 L239.49,709.30 L240.27,710.37 L241.07,711.43 L241.86,712.49 L242.67,713.55 L243.49,714.61 L244.31,715.66 L245.14,716.71 L245.97,717.76 L246.82,718.80 L247.67,719.85 L248.54,720.89 L249.41,721.92 L250.28,722.96 L251.17,723.99 L252.06,725.02 L252.97,726.05 L253.88,727.07 L254.80,728.09 L255.73,729.11 L256.67,730.13 L257.61,731.14 L258.57,732.16 L259.53,733.17 L260.51,734.17 L261.49,735.18 L262.48,736.18 L263.48,737.18 L264.49,738.17 L265.51,739.17 L266.54,740.16 L267.58,741.15 L268.63,742.13 L269.69,743.11 L270.76,744.10 L271.84,745.07 L272.93,746.05 L274.03,747.02 L275.14,748.00 L276.26,748.96 L277.40,749.93 L278.54,750.90 L279.69,751.86 L280.86,752.82 L282.03,753.77 L283.22,754.73 L284.41,755.68 L285.62,756.63 L286.84,757.57 L288.07,758.52 L289.32,759.46 L290.57,760.40 L291.84,761.34 L293.12,762.27 L294.41,763.21 L295.71,764.14 L297.03,765.06 L298.36,765.99 L299.70,766.91 L301.05,767.83 L302.42,768.75 L303.79,769.67 L305.19,770.58 L306.59,771.49 L308.01,772.40 L309.44,773.31 L310.89,774.21 L312.35,775.12 L313.82,776.02 L315.31,776.91 L316.81,777.81 L318.32,778.70 L319.85,779.59 L321.39,780.48 L322.95,781.37 L324.52,782.25 L326.11,783.14 L327.71,784.02 L329.33,784.89 L330.97,785.77 L332.61,786.64 L334.28,787.51 L335.96,788.38 L337.65,789.25 L339.37,790.11 L341.09,790.97 L342.84,791.83 L344.60,792.69 L346.38,793.55 L348.17,794.40 L349.98,795.25 L351.81,796.10 L353.66,796.95 L355.52,797.79 L357.40,798.63 L359.30,799.47 L361.22,800.31 L363.15,801.15 L365.10,801.98 L367.07,802.81 L369.06,803.64 L371.07,804.47 L373.10,805.30 L375.15,806.12 L377.21,806.94 L379.30,807.76 L381.40,808.58 L383.53,809.39 L385.67,810.20 L387.84,811.02 L390.03,811.82 L392.23,812.63 L394.46,813.44 L396.71,814.24 L398.98,815.04 L401.27,815.84 L403.58,816.63 L405.92,817.43 L408.27,818.22 L410.65,819.01 L413.06,819.80 L415.48,820.59 L417.93,821.37 L420.40,822.15 L422.89,822.94 L425.41,823.71 L427.95,824.49 L430.51,825.27 L433.10,826.04 L435.72,826.81 L438.36,827.58 L441.02,828.34 L443.71,829.11 L446.42,829.87 L449.16,830.63 L451.93,831.39 L454.72,832.15 L457.54,832.90 L460.38,833.66 L463.25,834.41 L466.15,835.16 L469.08,835.90 L472.03,836.65 L475.01,837.39 L478.02,838.14 L481.06,838.88 L484.13,839.61 L487.22,840.35 L490.35,841.08 L493.50,841.82 L496.69,842.55 L499.90,843.28 L503.15,844.00 L506.42,844.73 L509.73,845.45 L513.07,846.17 L516.44,846.89 L519.84,847.61 L523.27,848.33 L526.74,849.04 L530.24,849.75 L533.77,850.46 L537.33,851.17 L540.93,851.88 L544.57,852.58 L548.23,853.29 L551.94,853.99 L555.67,854.69 L559.44,855.38 L563.25,856.08 L567.10,856.77 L570.98,857.47 L574.89,858.16 L578.85,858.85 L582.84,859.53 L586.87,860.22 L590.93,860.90 L595.04,861.58 L599.18,862.26 L603.36,862.94 L607.59,863.62 L611.85,864.30 L616.15,864.97 L620.50,865.64 L624.88,866.31 L629.31,866.98 L633.77,867.64 L638.28,868.31 L642.84,868.97 L647.43,869.63 L652.07,870.29 L656.75,870.95 L661.48,871.61 L666.25,872.26 L671.07,872.92 L675.93,873.57 L680.84,874.22 L685.80,874.87 L690.80,875.51 L695.85,876.16 L700.94,876.80 L706.09,877.44 L711.28,878.08 L716.52,878.72 L721.82,879.36 L727.16,879.99 L732.55,880.62 L737.99,881.26 L743.49,881.89 L749.04,882.51 L754.64,883.14 L760.29,883.77 L765.99,884.39 L771.75,885.01 L777.57,885.63 L783.44,886.25 L789.36,886.87 L795.34,887.49 L801.38,888.10 L807.47,888.71 L813.62,889.32 L819.83,889.93 L826.10,890.54 L832.43,891.15 L838.81,891.75 L845.26,892.36 L851.77,892.96 L858.34,893.56 L864.97,894.16 L871.67,894.76 L878.43,895.35 L885.25,895.95 L892.13,896.54 L899.09,897.13 L906.10,897.72 L913.19,898.31 L920.34,898.89 L927.55,899.48 L934.84,900.06 L942.20,900.65 L949.62,901.23 L957.12,901.81 L964.68,902.38 L972.32,902.96 L980.03,903.53 L987.81,904.11 L995.66,904.68 L1003.59,905.25 L1011.60,905.82 L1019.68,906.39 L1027.84,906.95 L1036.07,907.52 L1044.38,908.08 L1052.77,908.64 L1061.24,909.20 L1069.79,909.76 L1078.42,910.32 L1087.13,910.88 L1095.93,911.43 L1104.80,911.98 L1113.76,912.54 L1122.81,913.09 L1131.94,913.64 L1141.16,914.18 L1150.46,914.73 L1159.86,915.27 L1169.34,915.82 L1178.91,916.36 L1188.57,916.90 L1198.32,917.44 L1208.17,917.98 L1218.11,918.51 L1228.14,919.05 L1238.26,919.58 L1248.49,920.12 L1258.81,920.65 L1269.22,921.18 L1279.74,921.71 L1290.35,922.23 L1301.06,922.76 L1311.88,923.28 L1322.80,923.81 L1333.82,924.33 L1344.94,924.85 L1356.18,925.37" stroke="#f00000" stroke-width="6.4" stroke-linecap="round" stroke-dasharray="0.01 7.07"/>
<path d="M160.84,-9.82 L160.88,-5.54 L160.92,-1.28 L160.97,2.95 L161.01,7.15 L161.05,11.34 L161.09,15.50 L161.14,19.63 L161.18,23.74 L161.22,27.83 L161.27,31.90 L161.31,35.94 L161.36,39.96 L161.40,43.96 L161.45,47.93 L161.49,51.89 L161.54,55.82 L161.59,59.73 L161.63,63.62 L161.68,67.49 L161.73,71.34 L161.78,75.17 L161.82,78.97 L161.87,82.76 L161.92,86.53 L161.97,90.28 L162.02,94.01 L162.07,97.72 L162.12,101.41 L162.17,105.08 L162.22,108.73 L162.28,112.36 L162.36,115.98 L162.43,119.57 L162.51,123.15 L162.59,126.71 L162.67,130.25 L162.75,133.78 L162.82,137.29 L162.90,140.78 L162.98,144.25 L163.06,147.71 L163.14,151.14 L163.22,154.57 L163.30,157.97 L163.38,161.36 L163.46,164.73 L163.53,168.09 L163.61,171.43 L163.69,174.76 L163.77,178.06 L163.85,181.36 L163.93,184.63 L164.01,187.90 L164.09,191.14 L164.17,194.37 L164.26,197.59 L164.34,200.79 L164.42,203.98 L164.50,207.15 L164.58,210.31 L164.66,213.45 L164.74,216.58 L164.82,219.70 L164.91,222.80 L164.99,225.88 L165.07,228.95 L165.15,232.01 L165.24,235.06 L165.32,238.09 L165.40,241.11 L165.49,244.11 L165.57,247.10 L165.66,250.08 L165.74,253.05 L165.83,256.00 L165.91,258.94 L166.00,261.86 L166.08,264.78 L166.17,267.68 L166.25,270.57 L166.34,273.44 L166.42,276.31 L166.51,279.16 L166.60,282.00 L166.69,284.83 L166.77,287.64 L166.86,290.44 L166.95,293.24 L167.04,296.02 L167.12,298.78 L167.21,301.54 L167.30,304.29 L167.39,307.02 L167.48,309.74 L167.57,312.45 L167.66,315.15 L167.75,317.84 L167.84,320.52 L167.92,323.19 L168.01,325.84 L168.10,328.49 L168.19,331.12 L168.28,333.75 L168.37,336.36 L168.46,338.96 L168.55,341.55 L168.65,344.13 L168.74,346.71 L168.84,349.27 L168.93,351.82 L169.03,354.36 L169.12,356.89 L169.22,359.41 L169.32,361.92 L169.42,364.42 L169.52,366.91 L169.62,369.39 L169.72,371.86 L169.82,374.32 L169.92,376.78 L170.03,379.22 L170.13,381.65 L170.24,384.08 L170.34,386.49 L170.45,388.89 L170.56,391.29 L170.66,393.68 L170.77,396.05 L170.88,398.42 L170.99,400.78 L171.11,403.13 L171.22,405.47 L171.33,407.81 L171.45,410.13 L171.56,412.44 L171.68,414.75 L171.79,417.05 L171.91,419.34 L172.03,421.62 L172.15,423.89 L172.27,426.15 L172.39,428.41 L172.52,430.65 L172.64,432.89 L172.76,435.12 L172.89,437.34 L173.02,439.56 L173.14,441.76 L173.27,443.96 L173.40,446.15 L173.53,448.33 L173.66,450.50 L173.79,452.67 L173.93,454.82 L174.06,456.97 L174.20,459.11 L174.33,461.25 L174.47,463.37 L174.61,465.49 L174.75,467.60 L174.89,469.71 L175.03,471.80 L175.18,473.89 L175.32,475.97 L175.46,478.04 L175.61,480.11 L175.76,482.17 L175.91,484.22 L176.06,486.26 L176.21,488.30 L176.36,490.33 L176.51,492.35 L176.67,494.37 L176.82,496.37 L176.98,498.37 L177.14,500.37 L177.30,502.35 L177.46,504.33 L177.62,506.31 L177.78,508.27 L177.94,510.23 L178.11,512.18 L178.28,514.13 L178.44,516.07 L178.61,518.00 L178.78,519.92 L178.96,521.84 L179.13,523.76 L179.30,525.66 L179.48,527.56 L179.66,529.45 L179.83,531.34 L180.01,533.22 L180.20,535.09 L180.38,536.96 L180.56,538.81 L180.75,540.67 L180.93,542.52 L181.12,544.36 L181.31,546.19 L181.50,548.02 L181.70,549.84 L181.89,551.66 L182.09,553.47 L182.28,555.27 L182.48,557.07 L182.68,558.86 L182.89,560.65 L183.09,562.43 L183.29,564.20 L183.50,565.97 L183.71,567.73 L183.92,569.48 L184.13,571.23 L184.34,572.98 L184.56,574.72 L184.77,576.45 L184.99,578.18 L185.21,579.90 L185.43,581.61 L185.66,583.32 L185.88,585.02 L186.11,586.72 L186.34,588.42 L186.57,590.10 L186.80,591.78 L187.03,593.46 L187.27,595.13 L187.50,596.79 L187.74,598.45 L187.98,600.11 L188.23,601.76 L188.47,603.40 L188.72,605.04 L188.97,606.67 L189.22,608.29 L189.47,609.92 L189.72,611.53 L189.98,613.14 L190.24,614.75 L190.50,616.35 L190.76,617.95 L191.02,619.54 L191.29,621.12 L191.56,622.70 L191.83,624.27 L192.10,625.84 L192.37,627.41 L192.65,628.97 L192.93,630.52 L193.21,632.07 L193.49,633.62 L193.78,635.16 L194.07,636.69 L194.36,638.22 L194.65,639.74 L194.94,641.26 L195.24,642.78 L195.54,644.29 L195.84,645.79 L196.14,647.29 L196.45,648.79 L196.75,650.28 L197.06,651.77 L197.38,653.25 L197.69,654.72 L198.01,656.20 L198.33,657.66 L198.65,659.13 L198.98,660.58 L199.30,662.04 L199.63,663.48 L199.97,664.93 L200.30,666.37 L200.64,667.80 L200.98,669.23 L201.32,670.66 L201.67,672.08 L202.02,673.50 L202.37,674.91 L202.72,676.32 L203.08,677.72 L203.44,679.12 L203.80,680.51 L204.16,681.90 L204.53,683.29 L204.90,684.67 L205.27,686.05 L205.65,687.42 L206.03,688.79 L206.41,690.15 L206.80,691.51 L207.18,692.87 L207.58,694.22 L207.97,695.57 L208.37,696.91 L208.77,698.25 L209.17,699.59 L209.57,700.92 L209.98,702.24 L210.40,703.56 L210.81,704.88 L211.23,706.20 L211.65,707.51 L212.08,708.81 L212.51,710.11 L212.94,711.41 L213.37,712.71 L213.81,714.00 L214.25,715.28 L214.70,716.56 L215.15,717.84 L215.60,719.11 L216.05,720.38 L216.51,721.65 L216.98,722.91 L217.44,724.17 L217.91,725.43 L218.39,726.68 L218.86,727.92 L219.34,729.17 L219.83,730.40 L220.32,731.64 L220.81,732.87 L221.30,734.10 L221.80,735.32 L222.31,736.54 L222.82,737.76 L223.33,738.97 L223.84,740.18 L224.36,741.38 L224.88,742.59 L225.41,743.78 L225.94,744.98 L226.48,746.17 L227.02,747.36 L227.56,748.54 L228.11,749.72 L228.66,750.89 L229.22,752.07 L229.78,753.24 L230.34,754.40 L230.91,755.56 L231.49,756.72 L232.06,757.88 L232.65,759.03 L233.23,760.17 L233.83,761.32 L234.42,762.46 L235.02,763.60 L235.63,764.73 L236.24,765.86 L236.85,766.99 L237.47,768.11 L238.10,769.23 L238.73,770.35 L239.36,771.46 L240.00,772.57 L240.64,773.68 L241.29,774.78 L241.94,775.88 L242.60,776.98 L243.27,778.07 L243.94,779.16 L244.61,780.25 L245.29,781.33 L245.97,782.41 L246.66,783.49 L247.36,784.56 L248.06,785.63 L248.76,786.70 L249.48,787.76 L250.19,788.82 L250.92,789.88 L251.64,790.93 L252.38,791.98 L253.12,793.03 L253.86,794.08 L254.61,795.12 L255.37,796.16 L256.13,797.19 L256.90,798.23 L257.67,799.25 L258.45,800.28 L259.24,801.30 L260.03,802.32 L260.83,803.34 L261.63,804.36 L262.44,805.37 L263.26,806.37 L264.08,807.38 L264.91,808.38 L265.75,809.38 L266.59,810.38 L267.44,811.37 L268.29,812.36 L269.16,813.34 L270.03,814.33 L270.90,815.31 L271.78,816.29 L272.67,817.26 L273.57,818.24 L274.47,819.20 L275.38,820.17 L276.30,821.13 L277.22,822.10 L278.15,823.05 L279.09,824.01 L280.03,824.96 L280.98,825.91 L281.94,826.86 L282.91,827.80 L283.89,828.74 L284.87,829.68 L285.86,830.61 L286.86,831.55 L287.86,832.48 L288.87,833.40 L289.89,834.33 L290.92,835.25 L291.96,836.17 L293.00,837.08 L294.06,838.00 L295.12,838.91 L296.18,839.82 L297.26,840.72 L298.35,841.62 L299.44,842.52 L300.54,843.42 L301.65,844.32 L302.77,845.21 L303.90,846.10 L305.04,846.98 L306.18,847.87 L307.33,848.75 L308.50,849.63 L309.67,850.50 L310.85,851.38 L312.04,852.25 L313.24,853.12 L314.45,853.98 L315.67,854.85 L316.89,855.71 L318.13,856.56 L319.38,857.42 L320.63,858.27 L321.90,859.12 L323.17,859.97 L324.46,860.82 L325.75,861.66 L327.06,862.50 L328.37,863.34 L329.70,864.18 L331.03,865.01 L332.38,865.84 L333.73,866.67 L335.10,867.49 L336.48,868.32 L337.86,869.14 L339.26,869.96 L340.67,870.77 L342.09,871.59 L343.52,872.40 L344.96,873.21 L346.42,874.01 L347.88,874.82 L349.36,875.62 L350.84,876.42 L352.34,877.22 L353.85,878.01 L355.37,878.80 L356.91,879.59 L358.45,880.38 L360.01,881.17 L361.58,881.95 L363.16,882.73 L364.75,883.51 L366.36,884.29 L367.98,885.06 L369.61,885.83 L371.25,886.60 L372.90,887.37 L374.57,888.13 L376.25,888.90 L377.95,889.66 L379.66,890.42 L381.38,891.17 L383.11,891.92 L384.86,892.68 L386.62,893.43 L388.39,894.17 L390.18,894.92 L391.98,895.66 L393.80,896.40 L395.63,897.14 L397.47,897.88 L399.33,898.61 L401.20,899.34 L403.09,900.07 L404.99,900.80 L406.90,901.53 L408.83,902.25 L410.78,902.97 L412.74,903.69 L414.71,904.41 L416.71,905.12 L418.71,905.84 L420.73,906.55 L422.77,907.26 L424.82,907.96 L426.89,908.67 L428.98,909.37 L431.08,910.07 L433.19,910.77 L435.33,911.47 L437.48,912.16 L439.64,912.85 L441.83,913.54 L444.03,914.23 L446.24,914.92 L448.48,915.60 L450.73,916.28 L453.00,916.97 L455.28,917.64 L457.59,918.32 L459.91,918.99 L462.25,919.67 L464.60,920.34 L466.98,921.01 L469.37,921.67 L471.78,922.34 L474.21,923.00 L476.66,923.66 L479.13,924.32 L481.62,924.98 L484.13,925.63 L486.65,926.29 L489.20,926.94 L491.76,927.59 L494.35,928.23 L496.95,928.88 L499.58,929.52 L502.22,930.16 L504.89,930.80 L507.57,931.44 L510.28,932.08 L513.01,932.71 L515.76,933.35 L518.53,933.98 L521.32,934.61 L524.13,935.23 L526.96,935.86 L529.82,936.48 L532.70,937.10 L535.60,937.72 L538.52,938.34 L541.47,938.96 L544.43,939.57 L547.42,940.18 L550.44,940.79 L553.48,941.40 L556.54,942.01 L559.62,942.62 L562.73,943.22 L565.86,943.82 L569.02,944.42 L572.20,945.02 L575.40,945.62 L578.63,946.21 L581.89,946.81 L585.17,947.40 L588.47,947.99 L591.80,948.57 L595.16,949.16 L598.54,949.75 L601.95,950.33 L605.38,950.91 L608.84,951.49 L612.33,952.07 L615.84,952.64 L619.38,953.22 L622.95,953.79 L626.55,954.36 L630.17,954.93 L633.82,955.50 L637.50,956.07 L641.21,956.63 L644.95,957.19 L648.72,957.76 L652.51,958.32 L656.33,958.87 L660.19,959.43 L664.07,959.99 L667.98,960.54 L671.93,961.09 L675.90,961.64 L679.91,962.19 L683.94,962.74 L688.01,963.28 L692.11,963.82 L696.23,964.37 L700.40,964.91 L704.59,965.45 L708.81,965.98 L713.07,966.52 L717.36,967.05 L721.69,967.59 L726.05,968.12 L730.44,968.65 L734.86,969.18 L739.32,969.70 L743.81,970.23 L748.34,970.75 L752.90,971.27 L757.50,971.79 L762.14,972.31 L766.81,972.83 L771.51,973.35 L776.25,973.86 L781.03,974.37 L785.85,974.89 L790.70,975.40 L795.59,975.91 L800.51,976.41 L805.48,976.92 L810.48,977.42 L815.52,977.93 L820.61,978.43 L825.73,978.93 L830.88,979.42 L836.08,979.92 L841.32,980.42 L846.60,980.91 L851.92,981.40 L857.28,981.90 L862.69,982.39 L868.13,982.87 L873.62,983.36 L879.15,983.85 L884.72,984.33 L890.33,984.81 L895.99,985.29 L901.69,985.77 L907.44,986.25 L913.23,986.73 L919.06,987.21 L924.94,987.68 L930.86,988.15 L936.83,988.63 L942.85,989.10 L948.91,989.56 L955.02,990.03 L961.18,990.50 L967.38,990.96 L973.63,991.43 L979.93,991.89 L986.28,992.35 L992.68,992.81 L999.13,993.27 L1005.62,993.73 L1012.17,994.18 L1018.77,994.64 L1025.41,995.09 L1032.11,995.54 L1038.86,995.99 L1045.67,996.44 L1052.52,996.89 L1059.43,997.33 L1066.39,997.78 L1073.40,998.22 L1080.47,998.67 L1087.60,999.11 L1094.78,999.55 L1102.01,999.99 L1109.30,1000.42 L1116.64,1000.86 L1124.05,1001.29 L1131.51,1001.73 L1139.02,1002.16 L1146.60,1002.59 L1154.23,1003.02 L1161.92,1003.45 L1169.68,1003.88 L1177.49,1004.30 L1185.36,1004.73 L1193.29,1005.15 L1201.28,1005.58 L1209.34,1006.00 L1217.46,1006.42 L1225.63,1006.84 L1233.88,1007.25 L1242.18,1007.67 L1250.55,1008.09 L1258.99,1008.50 L1267.49,1008.91 L1276.05,1009.33 L1284.68,1009.74 L1293.38,1010.15 L1302.15,1010.55 L1310.98,1010.96 L1319.88,1011.37 L1328.85,1011.77 L1337.89,1012.17 L1347.00,1012.58 L1356.18,1012.98" clip-path="url(#cb)" stroke="#2a28f8" stroke-width="6.4" stroke-linecap="round" stroke-dasharray="0.01 7.07"/>
<path d="M164.61,-7.53 L164.68,-2.05 L164.76,3.41 L164.83,8.83 L164.90,14.24 L164.98,19.61 L165.05,24.97 L165.13,30.29 L165.21,35.59 L165.28,40.87 L165.36,46.12 L165.44,51.34 L165.52,56.55 L165.60,61.72 L165.68,66.87 L165.77,72.00 L165.85,77.10 L165.93,82.18 L166.02,87.23 L166.10,92.26 L166.19,97.27 L166.27,102.25 L166.36,107.21 L166.45,112.14 L166.52,117.05 L166.60,121.94 L166.67,126.81 L166.75,131.65 L166.82,136.47 L166.90,141.26 L166.98,146.03 L167.06,150.78 L167.14,155.51 L167.22,160.21 L167.30,164.90 L167.39,169.56 L167.48,174.19 L167.56,178.81 L167.65,183.40 L167.74,187.97 L167.83,192.52 L167.92,197.05 L168.02,201.56 L168.11,206.04 L168.21,210.51 L168.31,214.95 L168.40,219.37 L168.50,223.77 L168.61,228.15 L168.71,232.51 L168.81,236.85 L168.92,241.16 L169.02,245.46 L169.13,249.74 L169.24,253.99 L169.35,258.23 L169.47,262.44 L169.58,266.64 L169.69,270.81 L169.81,274.96 L169.93,279.10 L170.05,283.22 L170.17,287.31 L170.29,291.39 L170.42,295.44 L170.55,299.48 L170.67,303.50 L170.80,307.50 L170.94,311.48 L171.07,315.44 L171.20,319.38 L171.34,323.30 L171.48,327.21 L171.63,331.09 L171.77,334.96 L171.91,338.81 L172.06,342.64 L172.21,346.45 L172.35,350.25 L172.50,354.02 L172.65,357.78 L172.81,361.52 L172.96,365.24 L173.12,368.95 L173.27,372.63 L173.43,376.30 L173.59,379.95 L173.75,383.59 L173.92,387.21 L174.08,390.80 L174.25,394.39 L174.42,397.95 L174.58,401.50 L174.76,405.03 L174.93,408.55 L175.10,412.04 L175.28,415.53 L175.46,418.99 L175.63,422.44 L175.82,425.87 L176.00,429.28 L176.18,432.68 L176.37,436.07 L176.56,439.43 L176.75,442.78 L176.94,446.12 L177.13,449.43 L177.32,452.74 L177.52,456.02 L177.72,459.29 L177.92,462.55 L178.12,465.79 L178.33,469.01 L178.53,472.22 L178.74,475.42 L178.95,478.60 L179.16,481.76 L179.38,484.91 L179.59,488.04 L179.81,491.16 L180.03,494.26 L180.26,497.35 L180.48,500.42 L180.71,503.48 L180.94,506.53 L181.17,509.56 L181.40,512.57 L181.63,515.57 L181.87,518.56 L182.11,521.53 L182.35,524.49 L182.60,527.43 L182.84,530.36 L183.09,533.28 L183.35,536.18 L183.60,539.07 L183.85,541.95 L184.11,544.81 L184.37,547.65 L184.64,550.49 L184.90,553.31 L185.17,556.11 L185.44,558.91 L185.72,561.69 L185.99,564.45 L186.27,567.21 L186.55,569.95 L186.84,572.67 L187.12,575.39 L187.41,578.09 L187.70,580.78 L188.00,583.45 L188.30,586.11 L188.60,588.76 L188.90,591.40 L189.21,594.02 L189.52,596.64 L189.83,599.24 L190.14,601.82 L190.46,604.40 L190.78,606.96 L191.11,609.51 L191.43,612.05 L191.76,614.57 L192.10,617.09 L192.43,619.59 L192.77,622.08 L193.12,624.56 L193.46,627.02 L193.81,629.48 L194.16,631.92 L194.52,634.35 L194.88,636.77 L195.24,639.18 L195.61,641.57 L195.98,643.96 L196.35,646.33 L196.73,648.69 L197.11,651.04 L197.49,653.38 L197.88,655.71 L198.27,658.03 L198.66,660.34 L199.06,662.63 L199.46,664.91 L199.87,667.19 L200.28,669.45 L200.69,671.70 L201.11,673.94 L201.53,676.17 L201.96,678.39 L202.39,680.60 L202.82,682.80 L203.26,684.99 L203.70,687.16 L204.15,689.33 L204.60,691.49 L205.05,693.63 L205.51,695.77 L205.97,697.89 L206.44,700.01 L206.91,702.12 L207.39,704.21 L207.87,706.30 L208.36,708.37 L208.85,710.44 L209.34,712.49 L209.84,714.54 L210.34,716.57 L210.85,718.60 L211.37,720.62 L211.88,722.62 L212.41,724.62 L212.94,726.61 L213.47,728.59 L214.01,730.56 L214.55,732.52 L215.10,734.47 L215.65,736.41 L216.21,738.34 L216.78,740.26 L217.35,742.17 L217.92,744.08 L218.50,745.97 L219.09,747.86 L219.68,749.73 L220.28,751.60 L220.88,753.46 L221.49,755.31 L222.10,757.15 L222.72,758.98 L223.35,760.81 L223.98,762.62 L224.62,764.43 L225.26,766.23 L225.91,768.02 L226.56,769.80 L227.23,771.57 L227.90,773.33 L228.57,775.09 L229.25,776.83 L229.94,778.57 L230.63,780.30 L231.33,782.02 L232.04,783.74 L232.75,785.44 L233.47,787.14 L234.20,788.83 L234.94,790.51 L235.68,792.18 L236.43,793.85 L237.18,795.50 L237.94,797.15 L238.71,798.79 L239.49,800.43 L240.27,802.05 L241.07,803.67 L241.86,805.28 L242.67,806.88 L243.49,808.48 L244.31,810.06 L245.14,811.64 L245.97,813.21 L246.82,814.78 L247.67,816.33 L248.54,817.88 L249.41,819.43 L250.28,820.96 L251.17,822.49 L252.06,824.01 L252.97,825.52 L253.88,827.03 L254.80,828.52 L255.73,830.02 L256.67,831.50 L257.61,832.98 L258.57,834.45 L259.53,835.91 L260.51,837.36 L261.49,838.81 L262.48,840.25 L263.48,841.69 L264.49,843.12 L265.51,844.54 L266.54,845.95 L267.58,847.36 L268.63,848.76 L269.69,850.16 L270.76,851.54 L271.84,852.93 L272.93,854.30 L274.03,855.67 L275.14,857.03 L276.26,858.38 L277.40,859.73 L278.54,861.07 L279.69,862.41 L280.86,863.74 L282.03,865.06 L283.22,866.38 L284.41,867.69 L285.62,868.99 L286.84,870.29 L288.07,871.58 L289.32,872.86 L290.57,874.14 L291.84,875.42 L293.12,876.68 L294.41,877.94 L295.71,879.20 L297.03,880.45 L298.36,881.69 L299.70,882.93 L301.05,884.16 L302.42,885.38 L303.79,886.60 L305.19,887.82 L306.59,889.02 L308.01,890.23 L309.44,891.42 L310.89,892.61 L312.35,893.80 L313.82,894.98 L315.31,896.15 L316.81,897.32 L318.32,898.48 L319.85,899.63 L321.39,900.79 L322.95,901.93 L324.52,903.07 L326.11,904.21 L327.71,905.34 L329.33,906.46 L330.97,907.58 L332.61,908.69 L334.28,909.80 L335.96,910.90 L337.65,912.00 L339.37,913.09 L341.09,914.18 L342.84,915.26 L344.60,916.33 L346.38,917.40 L348.17,918.47 L349.98,919.53 L351.81,920.59 L353.66,921.64 L355.52,922.68 L357.40,923.73 L359.30,924.76 L361.22,925.79 L363.15,926.82 L365.10,927.84 L367.07,928.85 L369.06,929.87 L371.07,930.87 L373.10,931.87 L375.15,932.87 L377.21,933.86 L379.30,934.85 L381.40,935.83 L383.53,936.81 L385.67,937.78 L387.84,938.75 L390.03,939.72 L392.23,940.68 L394.46,941.63 L396.71,942.58 L398.98,943.53 L401.27,944.47 L403.58,945.40 L405.92,946.34 L408.27,947.26 L410.65,948.19 L413.06,949.11 L415.48,950.02 L417.93,950.93 L420.40,951.84 L422.89,952.74 L425.41,953.63 L427.95,954.53 L430.51,955.42 L433.10,956.30 L435.72,957.18 L438.36,958.06 L441.02,958.93 L443.71,959.79 L446.42,960.66 L449.16,961.52 L451.93,962.37 L454.72,963.22 L457.54,964.07 L460.38,964.91 L463.25,965.75 L466.15,966.59 L469.08,967.42 L472.03,968.24 L475.01,969.07 L478.02,969.89 L481.06,970.70 L484.13,971.51 L487.22,972.32 L490.35,973.12 L493.50,973.92 L496.69,974.72 L499.90,975.51 L503.15,976.30 L506.42,977.08 L509.73,977.86 L513.07,978.64 L516.44,979.41 L519.84,980.18 L523.27,980.95 L526.74,981.71 L530.24,982.47 L533.77,983.22 L537.33,983.98 L540.93,984.72 L544.57,985.47 L548.23,986.21 L551.94,986.94 L555.67,987.68 L559.44,988.41 L563.25,989.13 L567.10,989.86 L570.98,990.58 L574.89,991.29 L578.85,992.01 L582.84,992.71 L586.87,993.42 L590.93,994.12 L595.04,994.82 L599.18,995.52 L603.36,996.21 L607.59,996.90 L611.85,997.58 L616.15,998.27 L620.50,998.95 L624.88,999.62 L629.31,1000.30 L633.77,1000.97 L638.28,1001.63 L642.84,1002.29 L647.43,1002.95 L652.07,1003.61 L656.75,1004.27 L661.48,1004.92 L666.25,1005.56 L671.07,1006.21 L675.93,1006.85 L680.84,1007.49 L685.80,1008.12 L690.80,1008.75 L695.85,1009.38 L700.94,1010.01 L706.09,1010.63 L711.28,1011.25 L716.52,1011.87 L721.82,1012.48 L727.16,1013.10 L732.55,1013.70 L737.99,1014.31 L743.49,1014.91 L749.04,1015.51 L754.64,1016.11 L760.29,1016.70 L765.99,1017.29 L771.75,1017.88 L777.57,1018.47 L783.44,1019.05 L789.36,1019.63 L795.34,1020.21 L801.38,1020.78 L807.47,1021.35 L813.62,1021.92 L819.83,1022.49 L826.10,1023.05 L832.43,1023.61 L838.81,1024.17 L845.26,1024.73 L851.77,1025.28 L858.34,1025.83 L864.97,1026.38 L871.67,1026.92 L878.43,1027.46 L885.25,1028.00 L892.13,1028.54 L899.09,1029.07 L906.10,1029.61 L913.19,1030.14 L920.34,1030.66 L927.55,1031.19 L934.84,1031.71 L942.20,1032.23 L949.62,1032.74 L957.12,1033.26 L964.68,1033.77 L972.32,1034.28 L980.03,1034.79 L987.81,1035.29 L995.66,1035.79 L1003.59,1036.29 L1011.60,1036.79 L1019.68,1037.29 L1027.84,1037.78 L1036.07,1038.27 L1044.38,1038.76 L1052.77,1039.24 L1061.24,1039.73 L1069.79,1040.21 L1078.42,1040.69 L1087.13,1041.16 L1095.93,1041.64 L1104.80,1042.11 L1113.76,1042.58 L1122.81,1043.04 L1131.94,1043.51 L1141.16,1043.97 L1150.46,1044.43 L1159.86,1044.89 L1169.34,1045.35 L1178.91,1045.80 L1188.57,1046.25 L1198.32,1046.70 L1208.17,1047.15 L1218.11,1047.60 L1228.14,1048.04 L1238.26,1048.48 L1248.49,1048.92 L1258.81,1049.36 L1269.22,1049.79 L1279.74,1050.23 L1290.35,1050.66 L1301.06,1051.08 L1311.88,1051.51 L1322.80,1051.94 L1333.82,1052.36 L1344.94,1052.78 L1356.18,1053.20" clip-path="url(#cg)" stroke="#00d000" stroke-width="6.4" stroke-linecap="round" stroke-dasharray="0.01 7.07"/>
</g>
<g stroke="#000" fill="none" shape-rendering="crispEdges">
<path d="M156.5,45.0 V1144.2" stroke-width="7"/>
<path d="M153.0,1140.7 H1349.8" stroke-width="7"/>
<circle cx="1349.8" cy="1140.7" r="3.5" fill="#000" stroke="none"/>
<path d="M156.5,48.5 H184.6" stroke-width="7" stroke-linecap="round"/>
<path d="M156.5,94.0 H174.8" stroke-width="2"/>
<path d="M156.5,139.5 H174.8" stroke-width="2"/>
<path d="M156.5,185.0 H174.8" stroke-width="2"/>
<path d="M156.5,230.5 H184.6" stroke-width="7" stroke-linecap="round"/>
<path d="M156.5,276.0 H174.8" stroke-width="2"/>
<path d="M156.5,321.6 H174.8" stroke-width="2"/>
<path d="M156.5,367.1 H174.8" stroke-width="2"/>
<path d="M156.5,412.6 H184.6" stroke-width="7" stroke-linecap="round"/>
<path d="M156.5,458.1 H174.8" stroke-width="2"/>
<path d="M156.5,503.6 H174.8" stroke-width="2"/>
<path d="M156.5,549.1 H174.8" stroke-width="2"/>
<path d="M156.5,594.6 H184.6" stroke-width="7" stroke-linecap="round"/>
<path d="M156.5,640.1 H174.8" stroke-width="2"/>
<path d="M156.5,685.6 H174.8" stroke-width="2"/>
<path d="M156.5,731.2 H174.8" stroke-width="2"/>
<path d="M156.5,776.7 H184.6" stroke-width="7" stroke-linecap="round"/>
<path d="M156.5,822.2 H174.8" stroke-width="2"/>
<path d="M156.5,867.7 H174.8" stroke-width="2"/>
<path d="M156.5,913.2 H174.8" stroke-width="2"/>
<path d="M156.5,958.7 H184.6" stroke-width="7" stroke-linecap="round"/>
<path d="M156.5,1004.2 H174.8" stroke-width="2"/>
<path d="M156.5,1049.7 H174.8" stroke-width="2"/>
<path d="M156.5,1095.2 H174.8" stroke-width="2"/>
<path d="M156.5,1140.7 H184.6" stroke-width="7" stroke-linecap="round"/>
<path d="M207.6,1140.7 V1121.6" stroke-width="2.6"/>
<path d="M258.6,1140.7 V1121.6" stroke-width="2.6"/>
<path d="M309.6,1140.7 V1121.6" stroke-width="2.6"/>
<path d="M360.7,1140.7 V1121.6" stroke-width="2.6"/>
<path d="M411.8,1140.7 V1112" stroke-width="6" stroke-linecap="round"/>
<path d="M462.8,1140.7 V1121.6" stroke-width="2.6"/>
<path d="M513.8,1140.7 V1121.6" stroke-width="2.6"/>
<path d="M564.9,1140.7 V1121.6" stroke-width="2.6"/>
<path d="M615.9,1140.7 V1121.6" stroke-width="2.6"/>
<path d="M667.0,1140.7 V1112" stroke-width="6" stroke-linecap="round"/>
<path d="M718.0,1140.7 V1121.6" stroke-width="2.6"/>
<path d="M769.1,1140.7 V1121.6" stroke-width="2.6"/>
<path d="M820.1,1140.7 V1121.6" stroke-width="2.6"/>
<path d="M871.2,1140.7 V1121.6" stroke-width="2.6"/>
<path d="M922.2,1140.7 V1112" stroke-width="6" stroke-linecap="round"/>
<path d="M973.3,1140.7 V1121.6" stroke-width="2.6"/>
<path d="M1024.3,1140.7 V1121.6" stroke-width="2.6"/>
<path d="M1075.4,1140.7 V1121.6" stroke-width="2.6"/>
<path d="M1126.4,1140.7 V1121.6" stroke-width="2.6"/>
<path d="M1177.5,1140.7 V1112" stroke-width="6" stroke-linecap="round"/>
<path d="M1228.5,1140.7 V1121.6" stroke-width="2.6"/>
<path d="M1279.6,1140.7 V1121.6" stroke-width="2.6"/>
<path d="M1330.6,1140.7 V1121.6" stroke-width="2.6"/>
</g>
<g font-family="'Liberation Serif', serif" font-weight="bold" fill="#000" style="font-kerning:none" opacity="0.999">
<text x="134" y="71.3" font-size="43" text-anchor="end">1.0</text>
<text x="133.5" y="249.0" font-size="43" text-anchor="end">0.8</text>
<text x="133.3" y="427.2" font-size="43" text-anchor="end">0.6</text>
<text x="133.3" y="611.6" font-size="43" text-anchor="end">0.4</text>
<text x="133.4" y="788.9" font-size="43" text-anchor="end">0.2</text>
<text x="131.6" y="977.1" font-size="43" text-anchor="end">0</text>
<text x="132.2" y="1150.5" font-size="43" text-anchor="end">-0.2</text>
<text x="155.9" y="1183.4" font-size="43" text-anchor="middle" letter-spacing="-0.45">0</text>
<text x="411.1" y="1183.4" font-size="43" text-anchor="middle" letter-spacing="-0.45">500</text>
<text x="666.4" y="1183.4" font-size="43" text-anchor="middle" letter-spacing="-0.45">1000</text>
<text x="921.6" y="1183.4" font-size="43" text-anchor="middle" letter-spacing="-0.45">1500</text>
<text x="1176.9" y="1183.4" font-size="43" text-anchor="middle" letter-spacing="-0.45">2000</text>
<text x="660" y="1231.6" font-size="50"><tspan font-style="italic">Q</tspan> /m<tspan font-size="29" font-weight="normal" dy="-26">3</tspan><tspan dy="26" dx="15.8">h</tspan><tspan font-size="29" font-weight="normal" dy="-26">-1</tspan></text>
<circle cx="788.7" cy="1218.2" r="2.9" fill="#000"/>
<text transform="translate(61.3,651.2) rotate(-90) scale(1.125,1)" font-size="53" font-style="italic">E</text>
<text transform="translate(61.3,602.8) rotate(-90) scale(0.9,1)" font-size="53">/</text>
<text transform="translate(61.3,591) rotate(-90)" font-size="53">%</text>
<text x="1215.3" y="120.8" font-size="38.5" letter-spacing="0.15">Test-1</text>
<text x="1215.3" y="168.1" font-size="38.5" letter-spacing="0.15">Test-2</text>
<text x="1215.3" y="215.4" font-size="38.5" letter-spacing="0.15">2-UFM<tspan font-size="25" font-weight="normal" dy="11.5" dx="0.3">1</tspan></text>
<text x="1215.3" y="262.1" font-size="38.5" letter-spacing="0.15">2-UFM<tspan font-size="25" font-weight="normal" dy="11.5" dx="0.3">2</tspan></text>
<text x="1215.3" y="309.4" font-size="38.5" letter-spacing="0.15">3-UFM<tspan font-size="25" font-weight="normal" dy="11.5" dx="0.3">1</tspan></text>
<text x="1215.3" y="356.6" font-size="38.5" letter-spacing="0.15">3-UFM<tspan font-size="25" font-weight="normal" dy="11.5" dx="0.3">2</tspan></text>
<text x="1215.3" y="403.9" font-size="38.5" letter-spacing="0.15">3-UFM<tspan font-size="25" font-weight="normal" dy="11.5" dx="0.3">3</tspan></text>
</g>
<g shape-rendering="crispEdges" fill="none">
<polygon points="1096.7,88.6 1078.7,119.8 1114.7,119.8" fill="#f00000"/>
<polygon points="1096.7,135.6 1078.7,166.8 1114.7,166.8" fill="#2a28f8"/>
<path d="M1005,204.4 H1174.5" stroke="#f00000" stroke-width="7.4" stroke-linecap="round" stroke-dasharray="23.6 32.9" stroke-dashoffset="-3.7"/>
<path d="M1178.4,204.4 H1184.5" stroke="#f00000" stroke-width="7.4" stroke-linecap="round"/>
<path d="M1005,251.5 H1174.5" stroke="#2a28f8" stroke-width="7.4" stroke-linecap="round" stroke-dasharray="23.6 32.9" stroke-dashoffset="-3.7"/>
<path d="M1178.4,251.5 H1184.5" stroke="#2a28f8" stroke-width="7.4" stroke-linecap="round"/>
<path d="M1008,298.7 H1182" stroke="#f00000" stroke-width="6.4" stroke-linecap="round" stroke-dasharray="0.01 7.07"/>
<path d="M1008,345.9 H1182" stroke="#2a28f8" stroke-width="6.4" stroke-linecap="round" stroke-dasharray="0.01 7.07"/>
<path d="M1008,393.3 H1182" stroke="#00d000" stroke-width="6.4" stroke-linecap="round" stroke-dasharray="0.01 7.07"/>
</g>
</svg>
</body></html>
